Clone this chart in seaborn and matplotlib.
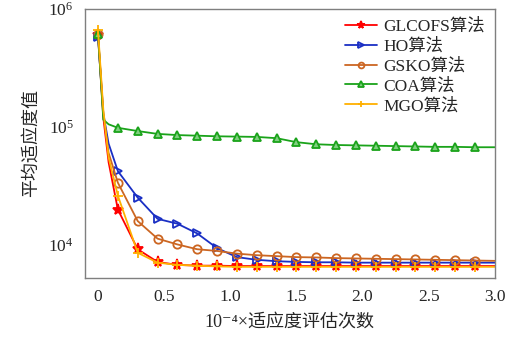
import numpy as np
import pandas as pd
import matplotlib
matplotlib.use("Agg")
import matplotlib.pyplot as plt
import seaborn as sns

# evaluations (x 10^4) and mean fitness values
evals = [0, 0.04, 0.08, 0.15, 0.3, 0.45, 0.6, 0.75, 0.9, 1.05, 1.2, 1.35, 1.5,
         1.65, 1.8, 1.95, 2.1, 2.25, 2.4, 2.55, 2.7, 2.85, 3.0]
glcofs = [6.0e5, 1.2e5, 5.0e4, 1.98e4, 9.1e3, 7.1e3, 6.7e3, 6.6e3, 6.6e3, 6.55e3, 6.55e3, 6.55e3,
          6.55e3, 6.55e3, 6.55e3, 6.55e3, 6.55e3, 6.55e3, 6.55e3, 6.55e3, 6.55e3, 6.55e3, 6.55e3]
ho = [5.8e5, 1.3e5, 7.2e4, 4.2e4, 2.5e4, 1.65e4, 1.5e4, 1.24e4, 9.3e3, 7.8e3, 7.4e3, 7.2e3,
      7.1e3, 7.05e3, 7.05e3, 7.0e3, 7.0e3, 7.0e3, 7.0e3, 7.0e3, 7.0e3, 7.0e3, 7.0e3]
gsko = [6.2e5, 1.3e5, 6.0e4, 3.35e4, 1.58e4, 1.12e4, 1.0e4, 9.1e3, 8.8e3, 8.35e3, 8.1e3, 7.95e3,
        7.8e3, 7.75e3, 7.65e3, 7.6e3, 7.55e3, 7.5e3, 7.45e3, 7.4e3, 7.35e3, 7.3e3, 7.25e3]
coa = [6.2e5, 1.15e5, 1.05e5, 9.8e4, 9.2e4, 8.7e4, 8.5e4, 8.4e4, 8.3e4, 8.25e4, 8.2e4, 8.0e4,
       7.4e4, 7.1e4, 7.0e4, 6.95e4, 6.9e4, 6.85e4, 6.8e4, 6.75e4, 6.75e4, 6.7e4, 6.7e4]
mgo = [6.6e5, 1.4e5, 5.5e4, 2.6e4, 8.5e3, 7.0e3, 6.7e3, 6.6e3, 6.5e3, 6.45e3, 6.45e3, 6.45e3,
       6.45e3, 6.45e3, 6.45e3, 6.45e3, 6.45e3, 6.45e3, 6.45e3, 6.45e3, 6.45e3, 6.45e3, 6.45e3]

labels = ["GLCOFS算法", "HO算法", "GSKO算法", "COA算法", "MGO算法"]
colors = ["#ff0000", "#1a2fc4", "#cc6622", "#1aa31a", "#ffb000"]
faces = ["#ff0000", "none", "none", "#80cf80", "none"]
markers = ["*", ">", "o", "^", "+"]
msizes = [8, 6, 6, 6, 7]
xticks = [0, 0.5, 1.0, 1.5, 2.0, 2.5, 3.0]
xticklabels = ["0", "0.5", "1.0", "1.5", "2.0", "2.5", "3.0"]

sns.set_style("white")
plt.rcParams["font.family"] = ["Liberation Serif", "Noto Sans CJK SC", "DejaVu Sans"]
plt.rcParams["mathtext.fontset"] = "stix"

fig = plt.figure(figsize=(5.17, 3.38), dpi=100)
ax = fig.add_axes([0.164, 0.178, 0.793, 0.795])

mark_idx = [0] + list(range(3, 22))
for vals, lab, c, fc, m, ms in zip([glcofs, ho, gsko, coa, mgo], labels, colors, faces, markers, msizes):
    df = pd.DataFrame({"x": evals, "y": vals})
    sns.lineplot(data=df, x="x", y="y", ax=ax, color=c, label=lab, marker=m,
                 markevery=mark_idx, markersize=ms, markerfacecolor=fc,
                 markeredgecolor=c, markeredgewidth=1.3, linewidth=1.3, sort=False)

ax.set_yscale("log")
ax.set_ylim(5200, 1e6)
ax.set_xlim(-0.1, 3.0)
ax.set_xticks(xticks)
ax.set_xticklabels(xticklabels)
ax.minorticks_off()
ax.set_yticks([1e4, 1e5, 1e6])
ax.tick_params(axis="both", direction="in", length=4, width=0.8, color="#7f7f7f",
               labelsize=12.5, pad=8)
for sp in ax.spines.values():
    sp.set_visible(True)
    sp.set_color("#7f7f7f")
    sp.set_linewidth(1.0)

ax.set_xlabel("10⁻⁴×适应度评估次数", fontsize=13, labelpad=6)
ax.set_ylabel("平均适应度值", fontsize=13, labelpad=6)

ax.legend(loc="upper right", frameon=False, fontsize=12.5, handlelength=1.8,
          handletextpad=0.4, labelspacing=0.2, borderaxespad=0.15, markerscale=0.7)

fig.savefig("out.png", dpi=100)
